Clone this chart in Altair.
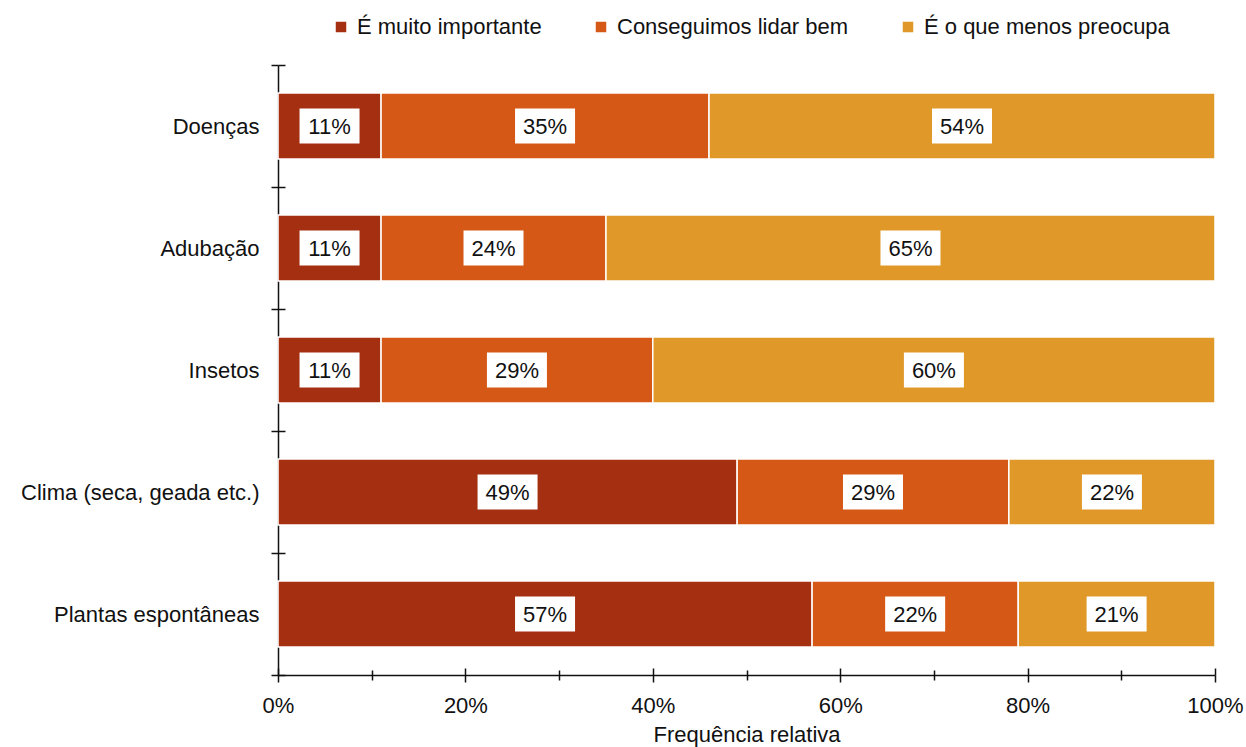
import altair as alt
import pandas as pd

# Categories (top to bottom) and the three answer groups
categories = ["Doenças", "Adubação", "Insetos", "Clima (seca, geada etc.)", "Plantas espontâneas"]
series = ["É muito importante", "Conseguimos lidar bem", "É o que menos preocupa"]

# Percent per category for each answer group
muito_importante = [11, 11, 11, 49, 57]
lidar_bem = [35, 24, 29, 29, 22]
menos_preocupa = [54, 65, 60, 22, 21]

colors = ["#A52F11", "#D55817", "#E09828"]
x_ticks = [0, 10, 20, 30, 40, 50, 60, 70, 80, 90, 100]

rows = []
for order, (name, values) in enumerate(zip(series, [muito_importante, lidar_bem, menos_preocupa])):
    for cat, v in zip(categories, values):
        rows.append({"categoria": cat, "resposta": name, "ordem": order, "valor": v})
df = pd.DataFrame(rows)

FONT = "Liberation Sans"
W, H = 937, 610

base = alt.Chart(df).transform_stack(
    stack="valor", groupby=["categoria"], as_=["inicio", "fim"],
    sort=[alt.SortField("ordem", order="ascending")],
).transform_calculate(
    meio="(datum.inicio + datum.fim) / 2",
    rotulo="datum.valor + '%'",
)

# Full-step bands so the axis ticks sit halfway between bars
y_scale = alt.Scale(paddingInner=0, paddingOuter=0)
x_scale = alt.Scale(domain=[0, 100], nice=False)

major_tick = {"condition": {"test": "datum.value % 20 === 0", "value": 7}, "value": 5}

# Stacked bars carrying the outer axes
bars = base.mark_bar(stroke="white", strokeWidth=1.5, height={"band": 0.54}).encode(
    y=alt.Y("categoria:N", sort=categories, scale=y_scale, title=None,
            axis=alt.Axis(orient="left", tickBand="extent", tickSize=7, tickWidth=1.5,
                          domainWidth=1.5, domainColor="#111", tickColor="#111",
                          grid=False, labelFontSize=22, labelPadding=12, labelLimit=400,
                          labelColor="#111")),
    x=alt.X("inicio:Q", scale=x_scale, title="Frequência relativa",
            axis=alt.Axis(orient="bottom", values=x_ticks, grid=False, labelFlush=False,
                          labelExpr="datum.value % 20 === 0 ? datum.value + '%' : ''",
                          tickSize=major_tick, tickWidth=1.5, domainWidth=1.5,
                          domainColor="#111", tickColor="#111",
                          labelFontSize=22, labelPadding=13, labelColor="#111",
                          titleFontSize=22, titleFontWeight="normal",
                          titleColor="#111", titlePadding=8)),
    x2="fim:Q",
    color=alt.Color("resposta:N", sort=series,
                    scale=alt.Scale(domain=series, range=colors),
                    legend=alt.Legend(title=None, orient="none", direction="horizontal",
                                      legendX=52, legendY=-49,
                                      symbolType="square", symbolSize=110,
                                      symbolStrokeWidth=0, labelFontSize=22,
                                      labelLimit=400, labelOffset=5,
                                      columnPadding=48, labelColor="#111")),
    order=alt.Order("ordem:Q"),
)

# Inner halves of the crossing axis ticks
inner_ticks = base.mark_bar(opacity=0, height={"band": 0.54}).encode(
    y=alt.Y("categoria:N", sort=categories, scale=y_scale, title=None,
            axis=alt.Axis(orient="right", offset=-W, tickBand="extent", tickSize=7,
                          tickWidth=1.5, tickColor="#111", domain=False, labels=False,
                          grid=False)),
    x=alt.X("inicio:Q", scale=x_scale, title=None,
            axis=alt.Axis(orient="top", offset=-H, values=x_ticks, tickSize=major_tick,
                          tickWidth=1.5, tickColor="#111", domain=False, labels=False,
                          grid=False)),
    x2="fim:Q",
)

# White boxes behind the value labels
boxes = base.mark_point(
    shape="M-1,-0.58L1,-0.58L1,0.58L-1,0.58Z", size=3600,
    filled=True, fill="white", opacity=1, strokeWidth=0,
).encode(
    x=alt.X("meio:Q", scale=x_scale, axis=None),
    y=alt.Y("categoria:N", sort=categories, scale=y_scale, axis=None),
)

labels = base.mark_text(font=FONT, fontSize=22, color="#111", baseline="middle", dy=1).encode(
    x=alt.X("meio:Q", scale=x_scale, axis=None),
    y=alt.Y("categoria:N", sort=categories, scale=y_scale, axis=None),
    text="rotulo:N",
)

chart = alt.layer(bars, inner_ticks, boxes, labels).resolve_axis(
    x="independent", y="independent"
).properties(
    width=W, height=H,
    autosize=alt.AutoSizeParams(type="none"),
    padding={"left": 278, "top": 65, "right": 31, "bottom": 72},
).configure(font=FONT).configure_view(stroke=None)

chart.save("out.html", embed_options={"renderer": "svg", "actions": False})
